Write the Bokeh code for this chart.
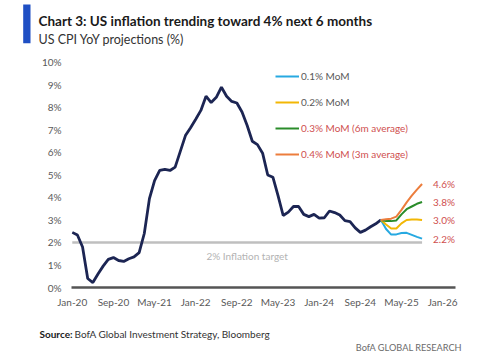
from bokeh.plotting import figure
from bokeh.models import FixedTicker, Legend, LegendItem, Range1d
from bokeh.layouts import column, row
from bokeh.core.properties import value
from bokeh.embed import file_html
from bokeh.resources import INLINE

# ---------------- data ----------------
# month index: 0 = Jan-20
cpi_actual = [2.45, 2.33, 1.80, 0.40, 0.22, 0.60, 0.95, 1.25, 1.33, 1.20,
              1.16, 1.28, 1.36, 1.55, 2.40, 3.95, 4.75, 5.20, 5.25, 5.20,
              5.35, 6.05, 6.75, 7.10, 7.48, 7.87, 8.50, 8.22, 8.45, 8.90,
              8.50, 8.27, 8.20, 7.80, 7.20, 6.50, 6.35, 5.97, 5.00, 4.90,
              4.08, 3.20, 3.35, 3.60, 3.60, 3.25, 3.15, 3.25, 3.08, 3.10,
              3.40, 3.33, 3.22, 2.97, 2.93, 2.65, 2.45, 2.55, 2.70, 2.83,
              3.00]
months_actual = list(range(len(cpi_actual)))

proj_months = list(range(60, 69))
proj_01 = [3.00, 2.60, 2.35, 2.36, 2.42, 2.43, 2.34, 2.25, 2.17]
proj_02 = [3.00, 2.80, 2.62, 2.62, 2.85, 3.00, 3.02, 3.02, 3.00]
proj_03 = [3.00, 2.95, 2.95, 2.98, 3.25, 3.48, 3.60, 3.72, 3.80]
proj_04 = [3.00, 3.03, 3.06, 3.15, 3.45, 3.78, 4.08, 4.35, 4.60]

series_names = ["0.1% MoM", "0.2% MoM", "0.3% MoM (6m average)", "0.4% MoM (3m average)"]

x_tick_months = [0, 8, 16, 24, 32, 40, 48, 56, 64, 72]
x_tick_labels = ["Jan-20", "Sep-20", "May-21", "Jan-22", "Sep-22",
                 "May-23", "Jan-24", "Sep-24", "May-25", "Jan-26"]
y_ticks = list(range(0, 11))
y_tick_labels = [f"{v}%" for v in y_ticks]

target = 2.0
target_label = "2% Inflation target"

title_text = "Chart 3: US inflation trending toward 4% next 6 months"
subtitle_text = "US CPI YoY projections (%)"
source_bold = "Source:"
source_text = "BofA Global Investment Strategy, Bloomberg"
brand_text = "BofA GLOBAL RESEARCH"

# ---------------- style ----------------
NAVY = "#1c2553"
C01 = "#27a9e1"
C02 = "#f2b705"
C03 = "#2a8c2a"
C04 = "#ec7d3c"
RED_TXT = "#cf4f4f"
GRAY_TXT = "#595959"
FONT = "Lato"
W = 500
HDR_H, MAIN_H, FTR_H = 55, 257, 40


def blank(h):
    f = figure(width=W, height=h, title=None, x_range=Range1d(0, W), y_range=Range1d(h, 0),
               x_axis_type=None, y_axis_type=None, toolbar_location=None,
               output_backend="svg", min_border=0)
    f.outline_line_color = None
    f.background_fill_color = "white"
    f.border_fill_color = "white"
    return f


# ---------------- header ----------------
hdr = blank(HDR_H)
hdr.quad(left=[22.7], right=[30], top=[4], bottom=[42.7], fill_color="#1f4fc4", line_color=None)
hdr.text(x=[38], y=[20.7], text=[title_text], text_baseline="alphabetic",
         text_font=value(FONT), text_font_size="13.5px", text_font_style="bold",
         text_color="#1a1a1a")
hdr.text(x=[38], y=[39.3], text=[subtitle_text], text_baseline="alphabetic",
         text_font=value(FONT), text_font_size="12.5px", text_color="#333333")

# ---------------- main chart ----------------
p = figure(width=W, height=MAIN_H, title=None, output_backend="svg", toolbar_location=None,
           x_range=Range1d(-0.15, 74.5), y_range=Range1d(0, 10.31),
           min_border_left=71, min_border_right=45,
           min_border_top=0, min_border_bottom=25)
p.outline_line_color = None
p.grid.visible = False
p.background_fill_color = "white"
p.border_fill_color = "white"

xa = p.xaxis[0]
xa.ticker = FixedTicker(ticks=x_tick_months)
xa.major_label_overrides = {m: l for m, l in zip(x_tick_months, x_tick_labels)}
xa.axis_line_color = "#555555"
xa.axis_line_width = 2.5
xa.major_tick_line_color = None
xa.minor_tick_line_color = None
xa.major_tick_out = 0
xa.major_label_standoff = 8
xa.major_label_text_font = FONT
xa.major_label_text_font_size = "10px"
xa.major_label_text_color = GRAY_TXT

ya = p.yaxis[0]
ya.ticker = FixedTicker(ticks=y_ticks)
ya.major_label_overrides = {v: l for v, l in zip(y_ticks, y_tick_labels)}
ya.axis_line_color = None
ya.major_tick_line_color = None
ya.minor_tick_line_color = None
ya.major_tick_out = 0
ya.major_label_standoff = 10
ya.major_label_text_font = FONT
ya.major_label_text_font_size = "10px"
ya.major_label_text_color = GRAY_TXT

tx = [months_actual[0], proj_months[-1]]
p.line(tx, [target, target], line_color="#bfbfbf", line_width=2.5)
p.text(x=[sum(tx) / 2], y=[target], text=[target_label], y_offset=14,
       text_align="center", text_baseline="middle",
       text_font=value(FONT), text_font_size="10px", text_color="#b3b3b3")

p.line(months_actual, cpi_actual, line_color=NAVY, line_width=2.8)

r1 = p.line(proj_months, proj_01, line_color=C01, line_width=2)
r2 = p.line(proj_months, proj_02, line_color=C02, line_width=2)
r3 = p.line(proj_months, proj_03, line_color=C03, line_width=2)
r4 = p.line(proj_months, proj_04, line_color=C04, line_width=2)

ends = [proj_04[-1], proj_03[-1], proj_02[-1], proj_01[-1]]
p.text(x=[proj_months[-1]] * 4, y=ends, text=[f"{v:.1f}%" for v in ends],
       x_offset=11, text_align="left", text_baseline="middle",
       text_font=value(FONT), text_font_size="10px", text_color=RED_TXT)

common = dict(orientation="vertical", glyph_width=24, glyph_height=20,
              label_height=20, spacing=6, padding=0, margin=0,
              border_line_color=None, background_fill_alpha=0,
              label_standoff=2, label_text_font=FONT,
              label_text_font_size="10px")
leg1 = Legend(items=[LegendItem(label=series_names[0], renderers=[r1]),
                     LegendItem(label=series_names[1], renderers=[r2])],
              location=(204, 175), label_text_color=GRAY_TXT, **common)
leg2 = Legend(items=[LegendItem(label=series_names[2], renderers=[r3]),
                     LegendItem(label=series_names[3], renderers=[r4])],
              location=(204, 123), label_text_color=RED_TXT, **common)
p.add_layout(leg1)
p.add_layout(leg2)

# ---------------- footer ----------------
ftr = blank(FTR_H)
ftr.text(x=[39], y=[21.3], text=[source_bold], text_baseline="alphabetic",
         text_font=value(FONT), text_font_size="10px", text_font_style="bold",
         text_color="#1a1a1a")
ftr.text(x=[74], y=[21.3], text=[source_text], text_baseline="alphabetic",
         text_font=value(FONT), text_font_size="10px", text_color="#333333")
ftr.text(x=[461.7], y=[35], text=[brand_text], text_baseline="alphabetic",
         text_align="right", text_font=value(FONT), text_font_size="9.2px",
         text_color="#6b6b6b")

layout = column(row(hdr, spacing=0), p, row(ftr, spacing=0), spacing=0)
open("out.html", "w").write(file_html(layout, INLINE))
